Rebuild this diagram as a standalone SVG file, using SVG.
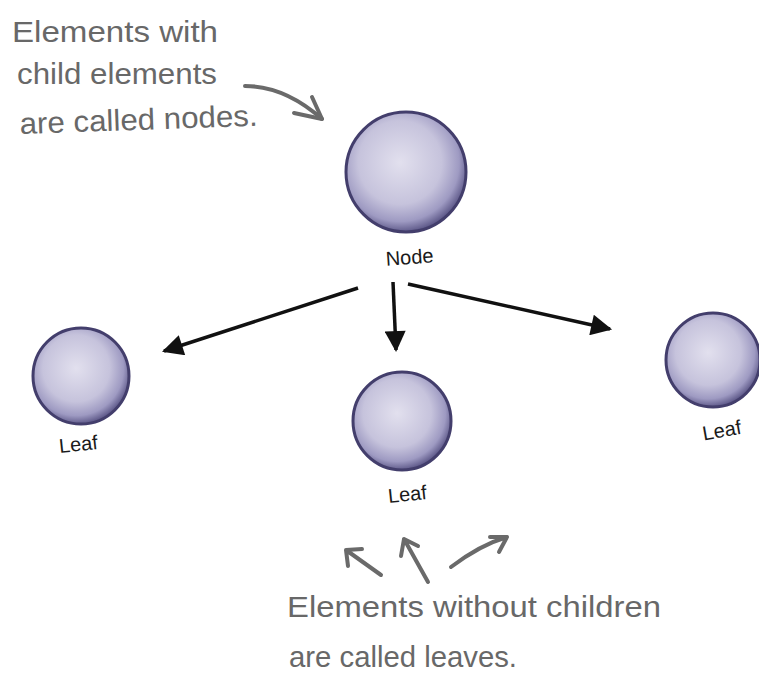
<svg xmlns="http://www.w3.org/2000/svg" width="759" height="674" viewBox="0 0 759 674">
<style>
.note{font-family:"Liberation Sans","DejaVu Sans",sans-serif;font-size:30px;fill:#686868}
.lbl{font-family:"Liberation Sans","DejaVu Sans",sans-serif;font-size:20px;fill:#1a1a1a}
.ball{fill:url(#g);stroke:#433e6c;stroke-width:3}
.conn{stroke:#111;stroke-width:3.5;fill:none;marker-end:url(#ah)}
.pen{stroke:#6a6a6a;stroke-width:4;fill:none;stroke-linecap:round;stroke-linejoin:round}
</style>
<defs>
<radialGradient id="g" cx="45%" cy="42%" r="58%">
<stop offset="0" stop-color="#e2e0ee"/>
<stop offset="0.6" stop-color="#c6c3dc"/>
<stop offset="0.85" stop-color="#9e9ac2"/>
<stop offset="1" stop-color="#5f5a8a"/>
</radialGradient>
<marker id="ah" viewBox="0 0 10 10" refX="9" refY="5" markerWidth="7" markerHeight="6" orient="auto" markerUnits="strokeWidth">
<path d="M0,0 L10,5 L0,10 Z" fill="#111"/>
</marker>
</defs>
<rect width="759" height="674" fill="#fff"/>

<g id="note-nodes">
<text class="note" x="12" y="42" textLength="206" lengthAdjust="spacingAndGlyphs">Elements with</text>
<text class="note" x="17" y="84" textLength="200" lengthAdjust="spacingAndGlyphs">child elements</text>
<text class="note" x="20" y="134" textLength="238" lengthAdjust="spacingAndGlyphs" transform="rotate(-2 20 134)">are called nodes.</text>
<path class="pen" d="M245,86 Q285,86 322,119"/>
<path class="pen" d="M312,97 L322,119 L294,113"/>
</g>

<g id="node">
<circle class="ball" cx="406" cy="172" r="60"/>
<text class="lbl" x="410" y="264" text-anchor="middle" transform="rotate(-4 410 264)">Node</text>
</g>
<g id="leaf-left">
<circle class="ball" cx="81" cy="376" r="48"/>
<text class="lbl" x="79" y="451" text-anchor="middle" transform="rotate(-6 79 451)">Leaf</text>
</g>
<g id="leaf-middle">
<circle class="ball" cx="402" cy="421" r="49"/>
<text class="lbl" x="408" y="501" text-anchor="middle" transform="rotate(-6 408 501)">Leaf</text>
</g>
<g id="leaf-right">
<circle class="ball" cx="713" cy="360" r="47"/>
<text class="lbl" x="723" y="437" text-anchor="middle" transform="rotate(-10 723 437)">Leaf</text>
</g>

<g id="connectors">
<line class="conn" x1="358" y1="288" x2="164" y2="351"/>
<line class="conn" x1="393" y1="282" x2="396" y2="350"/>
<line class="conn" x1="408" y1="284" x2="610" y2="329"/>
</g>

<g id="note-leaves">
<path class="pen" d="M381,575 L346,550 M346,550 L348,566 M346,550 L362,549"/>
<path class="pen" d="M428,582 L404,539 M404,539 L401,556 M404,539 L418,546"/>
<path class="pen" d="M451,567 Q480,545 507,537 M507,537 L490,537 M507,537 L499,552"/>
<text class="note" x="287" y="617" textLength="374" lengthAdjust="spacingAndGlyphs">Elements without children</text>
<text class="note" x="289" y="667" textLength="228" lengthAdjust="spacingAndGlyphs">are called leaves.</text>
</g>
</svg>
